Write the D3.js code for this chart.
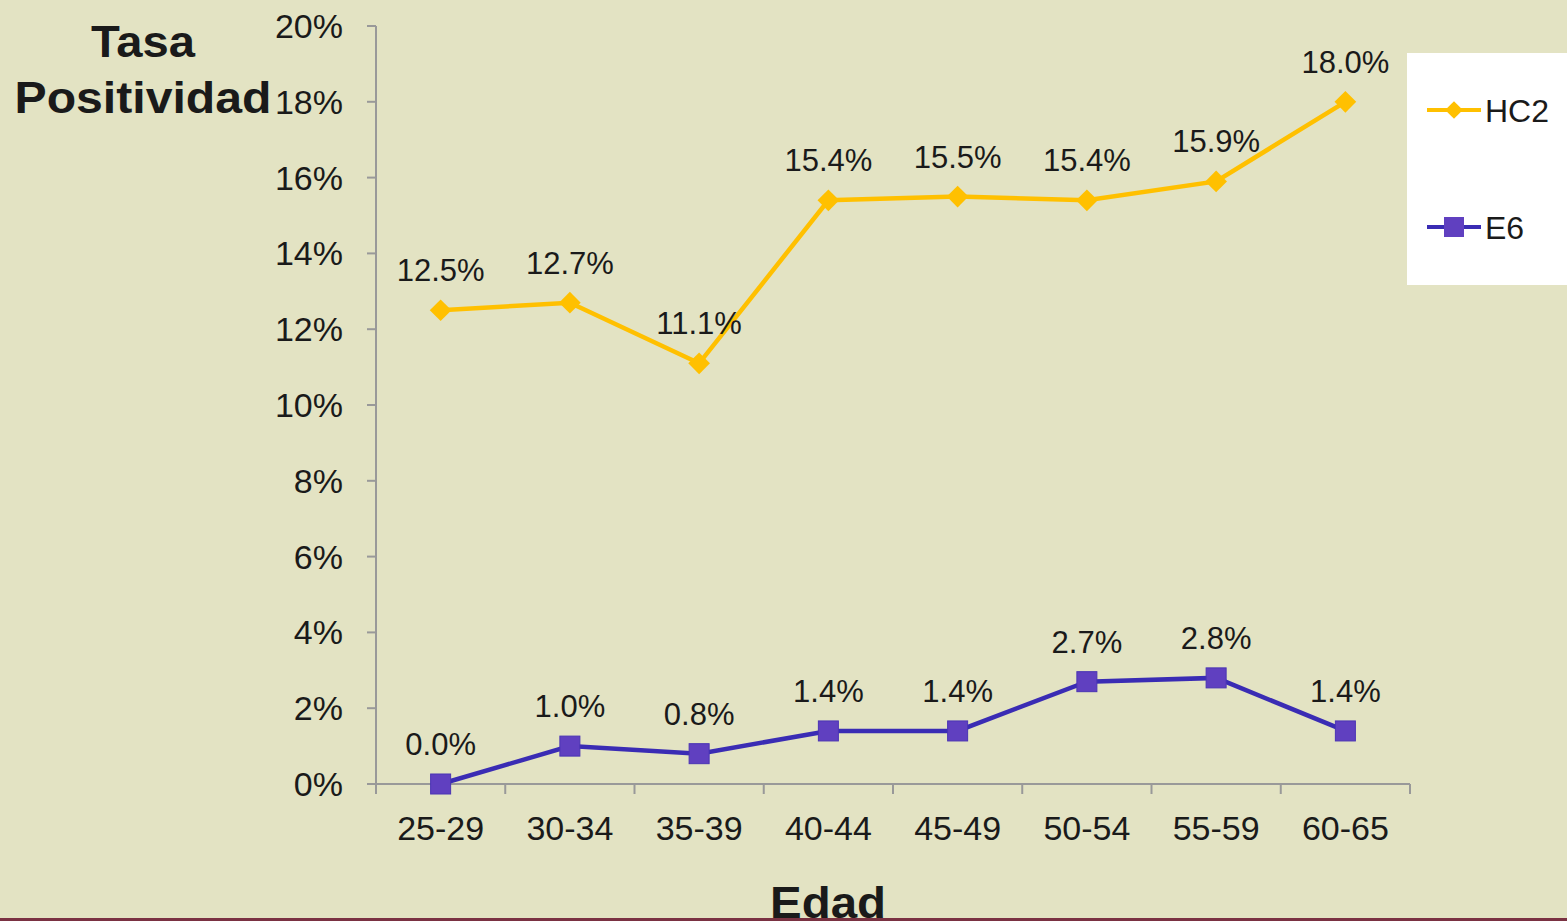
<!DOCTYPE html>
<html>
<head>
<meta charset="utf-8">
<script src="https://cdn.jsdelivr.net/npm/d3@7"></script>
<style>
  body { margin: 0; background: #e3e3c3; overflow: hidden; }
  text { font-family: "Liberation Sans", Arial, sans-serif; fill: #1a1a1a; }
</style>
</head>
<body>
<div id="container"></div>
<script>
const ages = ['25-29', '30-34', '35-39', '40-44', '45-49', '50-54', '55-59', '60-65'];
const hc2 = [12.5, 12.7, 11.1, 15.4, 15.5, 15.4, 15.9, 18.0];
const e6 = [0.0, 1.0, 0.8, 1.4, 1.4, 2.7, 2.8, 1.4];
const yTicks = [0, 2, 4, 6, 8, 10, 12, 14, 16, 18, 20];

const width = 1567, height = 921;
const svg = d3.select('#container').append('svg')
  .attr('width', width)
  .attr('height', height);

svg.append('rect').attr('width', width).attr('height', height).attr('fill', '#e3e3c3');
svg.append('rect').attr('x', 0).attr('y', 918).attr('width', width).attr('height', 3).attr('fill', '#7a3242');

const x = d3.scaleBand().domain(ages).range([376, 1410]);
const y = d3.scaleLinear().domain([0, 20]).range([784, 26]);
const cx = d => x(d) + x.bandwidth() / 2;

// y axis
const yAxis = svg.append('g');
yAxis.append('line')
  .attr('x1', 376).attr('x2', 376).attr('y1', y(20)).attr('y2', y(0))
  .attr('stroke', '#999').attr('stroke-width', 2);
yAxis.selectAll('.tick').data(yTicks).enter().append('line')
  .attr('x1', 367).attr('x2', 376)
  .attr('y1', d => y(d)).attr('y2', d => y(d))
  .attr('stroke', '#999').attr('stroke-width', 2);
yAxis.selectAll('text').data(yTicks).enter().append('text')
  .attr('x', 343).attr('y', d => y(d) + 12)
  .attr('text-anchor', 'end')
  .style('font-size', '34px')
  .text(d => d + '%');

// x axis
const xAxis = svg.append('g');
xAxis.append('line')
  .attr('x1', 367).attr('x2', 1410).attr('y1', y(0)).attr('y2', y(0))
  .attr('stroke', '#999').attr('stroke-width', 2);
xAxis.selectAll('.tick').data(ages.map(a => x(a)).concat([1410])).enter().append('line')
  .attr('x1', d => d).attr('x2', d => d)
  .attr('y1', y(0)).attr('y2', y(0) + 10)
  .attr('stroke', '#999').attr('stroke-width', 2);
xAxis.selectAll('text').data(ages).enter().append('text')
  .attr('x', cx).attr('y', 840)
  .attr('text-anchor', 'middle')
  .style('font-size', '34px')
  .text(d => d);

// axis titles
svg.append('text').attr('x', 143).attr('y', 57).attr('text-anchor', 'middle')
  .style('font-size', '44px').style('font-weight', 'bold')
  .attr('textLength', 104).attr('lengthAdjust', 'spacingAndGlyphs').text('Tasa');
svg.append('text').attr('x', 143).attr('y', 113).attr('text-anchor', 'middle')
  .style('font-size', '44px').style('font-weight', 'bold')
  .attr('textLength', 257).attr('lengthAdjust', 'spacingAndGlyphs').text('Positividad');
svg.append('text').attr('x', 828).attr('y', 918).attr('text-anchor', 'middle')
  .style('font-size', '44px').style('font-weight', 'bold')
  .attr('textLength', 116).attr('lengthAdjust', 'spacingAndGlyphs').text('Edad');

const line = d3.line().x((d, i) => cx(ages[i])).y(d => y(d));

// HC2
svg.append('path').datum(hc2).attr('d', line)
  .attr('fill', 'none').attr('stroke', '#ffc000').attr('stroke-width', 4.5);
svg.selectAll('.hc2').data(hc2).enter().append('path')
  .attr('d', d3.symbol(d3.symbolDiamond2, 300))
  .attr('transform', (d, i) => `translate(${cx(ages[i])},${y(d)})`)
  .attr('fill', '#ffc000');
svg.selectAll('.hc2lbl').data(hc2).enter().append('text')
  .attr('x', (d, i) => cx(ages[i])).attr('y', d => y(d) - 29)
  .attr('text-anchor', 'middle')
  .style('font-size', '31px')
  .text(d => d.toFixed(1) + '%');

// E6
svg.append('path').datum(e6).attr('d', line)
  .attr('fill', 'none').attr('stroke', '#3a2cb4').attr('stroke-width', 4.5);
svg.selectAll('.e6').data(e6).enter().append('rect')
  .attr('x', (d, i) => cx(ages[i]) - 10).attr('y', d => y(d) - 10)
  .attr('width', 20).attr('height', 20)
  .attr('fill', '#6040c0').attr('stroke', '#4a34b4').attr('stroke-width', 1);
svg.selectAll('.e6lbl').data(e6).enter().append('text')
  .attr('x', (d, i) => cx(ages[i])).attr('y', d => y(d) - 29)
  .attr('text-anchor', 'middle')
  .style('font-size', '31px')
  .text(d => d.toFixed(1) + '%');

// legend
const legend = svg.append('g');
legend.append('rect').attr('x', 1407).attr('y', 53).attr('width', 170).attr('height', 232)
  .attr('fill', '#fff');
legend.append('line').attr('x1', 1427).attr('x2', 1481).attr('y1', 110).attr('y2', 110)
  .attr('stroke', '#ffc000').attr('stroke-width', 4);
legend.append('path').attr('d', d3.symbol(d3.symbolDiamond2, 200))
  .attr('transform', 'translate(1454,110)').attr('fill', '#ffc000');
legend.append('text').attr('x', 1485).attr('y', 122).style('font-size', '32px').text('HC2');
legend.append('line').attr('x1', 1427).attr('x2', 1481).attr('y1', 227).attr('y2', 227)
  .attr('stroke', '#3a2cb4').attr('stroke-width', 4);
legend.append('rect').attr('x', 1444).attr('y', 217).attr('width', 20).attr('height', 20)
  .attr('fill', '#6040c0');
legend.append('text').attr('x', 1485).attr('y', 239).style('font-size', '32px').text('E6');
</script>
</body>
</html>
